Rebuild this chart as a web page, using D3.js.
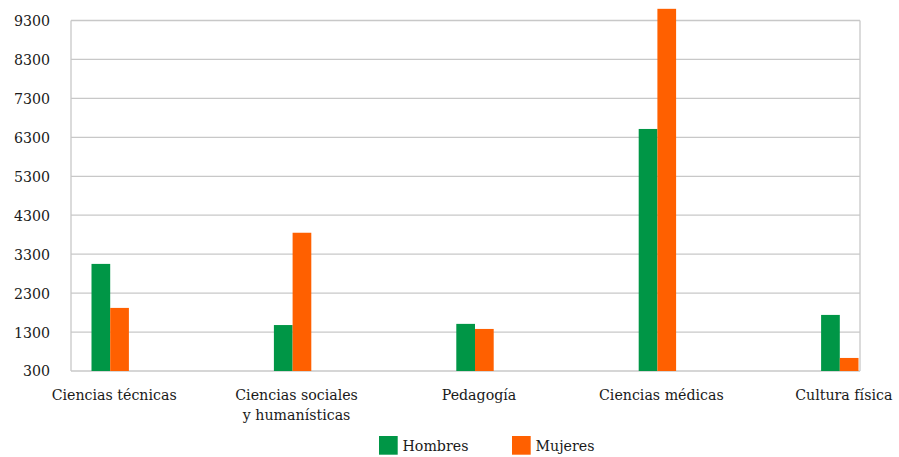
<!DOCTYPE html>
<html>
<head>
<meta charset="utf-8">
<script src="https://cdn.jsdelivr.net/npm/d3@7/dist/d3.min.js"></script>
<style>
  html, body { margin: 0; padding: 0; background: #fff; }
  svg { display: block; }
  svg text { font-family: "DejaVu Serif", serif; fill: #1a1a1a; }
</style>
</head>
<body>
<svg id="chart" width="899" height="457"></svg>
<script>
// Graduates by field of study and sex
const categories = [
  ["Ciencias técnicas"],
  ["Ciencias sociales", "y humanísticas"],
  ["Pedagogía"],
  ["Ciencias médicas"],
  ["Cultura física"]
];
const seriesNames = ["Hombres", "Mujeres"];
const hombres = [3050, 1480, 1510, 6515, 1740];
const mujeres = [1920, 3850, 1380, 9600, 635];
const yTicks = [300, 1300, 2300, 3300, 4300, 5300, 6300, 7300, 8300, 9300];
const colors = ["#009646", "#ff6000"];

const svg = d3.select("#chart");
const plot = { left: 71, right: 860, top: 20.5, bottom: 371 };
const fontSize = 14.2;

const catKeys = categories.map(c => c.join(" "));
const values = [hombres, mujeres];

const y = d3.scaleLinear().domain([300, 9300]).range([plot.bottom, plot.top]);
const x0 = d3.scaleBand().domain(catKeys).range([19, 931]).padding(0);
const x1 = d3.scaleBand().domain(seriesNames).range([0, 37.4]).padding(0);

// horizontal gridlines
svg.append("g")
  .selectAll("line")
  .data(yTicks)
  .join("line")
  .attr("x1", plot.left).attr("x2", plot.right)
  .attr("y1", d => y(d)).attr("y2", d => y(d))
  .attr("stroke", "#c8c8c8").attr("stroke-width", 1.3);

// plot frame sides
svg.append("line")
  .attr("x1", plot.left).attr("x2", plot.left)
  .attr("y1", plot.top).attr("y2", plot.bottom)
  .attr("stroke", "#c8c8c8").attr("stroke-width", 1.3);
svg.append("line")
  .attr("x1", plot.right).attr("x2", plot.right)
  .attr("y1", plot.top).attr("y2", plot.bottom)
  .attr("stroke", "#c8c8c8").attr("stroke-width", 1.3);

// y axis labels
const yAxis = d3.axisLeft(y).tickValues(yTicks).tickSize(0).tickPadding(0).tickFormat(d3.format("d"));
const gy = svg.append("g").attr("transform", `translate(50,0)`).call(yAxis);
gy.attr("font-family", null).attr("font-size", null);
gy.select(".domain").remove();
gy.selectAll("text")
  .attr("font-size", fontSize)
  .attr("dy", "0.35em");

// bars
seriesNames.forEach((s, si) => {
  svg.append("g")
    .selectAll("rect")
    .data(catKeys.map((k, i) => ({ k, v: values[si][i] })))
    .join("rect")
    .attr("x", d => x0(d.k) + x0.bandwidth() / 2 - x1.range()[1] / 2 + x1(s))
    .attr("width", x1.bandwidth())
    .attr("y", d => y(d.v))
    .attr("height", d => y(300) - y(d.v))
    .attr("fill", colors[si]);
});

// category labels
const xl = svg.append("g");
categories.forEach((lines, i) => {
  const cx = x0(catKeys[i]) + x0.bandwidth() / 2 + 4;
  const t = xl.append("text")
    .attr("text-anchor", "middle")
    .attr("font-size", fontSize)
    .attr("x", cx)
    .attr("y", 400);
  lines.forEach((ln, j) => {
    t.append("tspan")
      .attr("x", cx)
      .attr("dy", j === 0 ? 0 : 20)
      .text(ln);
  });
});

// legend
const legendX = [379, 512];
const lg = svg.append("g");
seriesNames.forEach((s, i) => {
  lg.append("rect")
    .attr("x", legendX[i]).attr("y", 436)
    .attr("width", 18.7).attr("height", 18.7)
    .attr("fill", colors[i]);
  lg.append("text")
    .attr("x", legendX[i] + 23.5).attr("y", 451)
    .attr("font-size", fontSize)
    .text(s);
});
</script>
</body>
</html>
